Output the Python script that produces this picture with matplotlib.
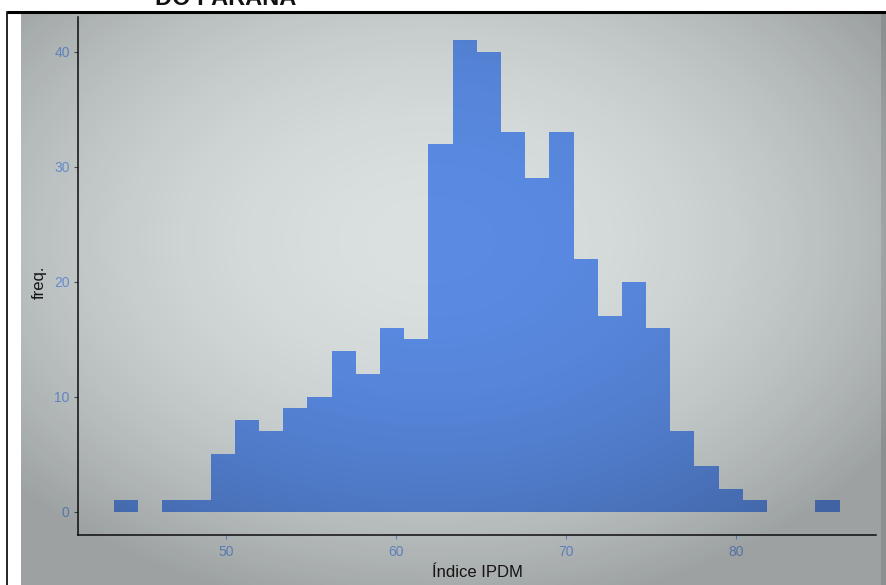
import numpy as np
import matplotlib.pyplot as plt

plt.rcParams['font.family'] = ['Liberation Sans', 'DejaVu Sans']

# histograma do IPDM (30 classes)
ipdm_min = 43.4
ipdm_max = 86.1
n_classes = 30
freq = [1, 0, 1, 1, 5, 8, 7, 9, 10, 14, 12, 16, 15, 32, 41,
        40, 33, 29, 33, 22, 17, 20, 16, 7, 4, 2, 1, 0, 0, 1]
xticks = [50, 60, 70, 80]
yticks = [0, 10, 20, 30, 40]

limites = np.linspace(ipdm_min, ipdm_max, n_classes + 1)

W, H = 887, 585
fig = plt.figure(figsize=(W / 100, H / 100), dpi=100)
fig.patch.set_facecolor('white')

# fundo em coordenadas de pixel
fundo = fig.add_axes([0, 0, 1, 1], zorder=0)
fundo.set_xlim(0, W)
fundo.set_ylim(H, 0)
fundo.axis('off')
fundo.imshow(np.ones((2, 2, 3)) * np.array([0xda, 0xe0, 0xe0]) / 255,
             extent=[21, W, H, 13], aspect='auto', zorder=0)
fundo.plot([7, W], [12, 12], color='black', lw=2.2, solid_capstyle='butt')
fundo.plot([7.5, 7.5], [12, H], color='black', lw=1.2)
fundo.text(155, 5, 'DO PARANÁ', fontsize=17, color='#111111',
           ha='left', va='baseline', fontweight='bold')

# gráfico
ax = fig.add_axes([78 / W, 1 - 535 / H, (876 - 78) / W, (535 - 17) / H], zorder=2)
ax.patch.set_alpha(0)
ax.bar(limites[:-1], freq, width=np.diff(limites), align='edge',
       color='#5a8be3', linewidth=0)
ax.set_xlim(41.29, 88.24)
ax.set_ylim(-2.0, 43.04)
ax.set_xticks(xticks)
ax.set_yticks(yticks)
for s in ['top', 'right']:
    ax.spines[s].set_visible(False)
for s in ['left', 'bottom']:
    ax.spines[s].set_color('#111111')
    ax.spines[s].set_linewidth(1.1)
ax.tick_params(axis='x', colors='#76a0ea', length=3, width=0.8, pad=4, labelsize=10)
ax.tick_params(axis='y', colors='#555555', labelcolor='#76a0ea', length=3,
               width=0.8, pad=3, labelsize=10)
ax.set_xlabel('Índice IPDM', fontsize=12, color='#1a1a1a')
ax.set_ylabel('freq.', fontsize=12, color='#1a1a1a')
ax.xaxis.set_label_coords((477 - 78) / (876 - 78), -(565 - 535) / (535 - 17))
ax.yaxis.set_label_coords(-(78 - 47) / (876 - 78), (535 - 282) / (535 - 17))

# vinheta radial sobre o painel
topo = fig.add_axes([0, 0, 1, 1], zorder=10)
topo.set_xlim(0, W)
topo.set_ylim(H, 0)
topo.axis('off')
yy, xx = np.mgrid[13:H, 21:W]
r2 = ((xx - 430) / 440.0) ** 2 + ((yy - 240) / 300.0) ** 2
alfa = np.clip(0.18 * r2, 0, 0.28)
alfa[:, -6:] = np.clip(alfa[:, -6:] + 0.08, 0, 0.36)
vinheta = np.zeros(alfa.shape + (4,))
vinheta[..., 3] = alfa
topo.imshow(vinheta, extent=[21, W, H, 13], aspect='auto', interpolation='bilinear')

fig.savefig('out.png', dpi=100)
